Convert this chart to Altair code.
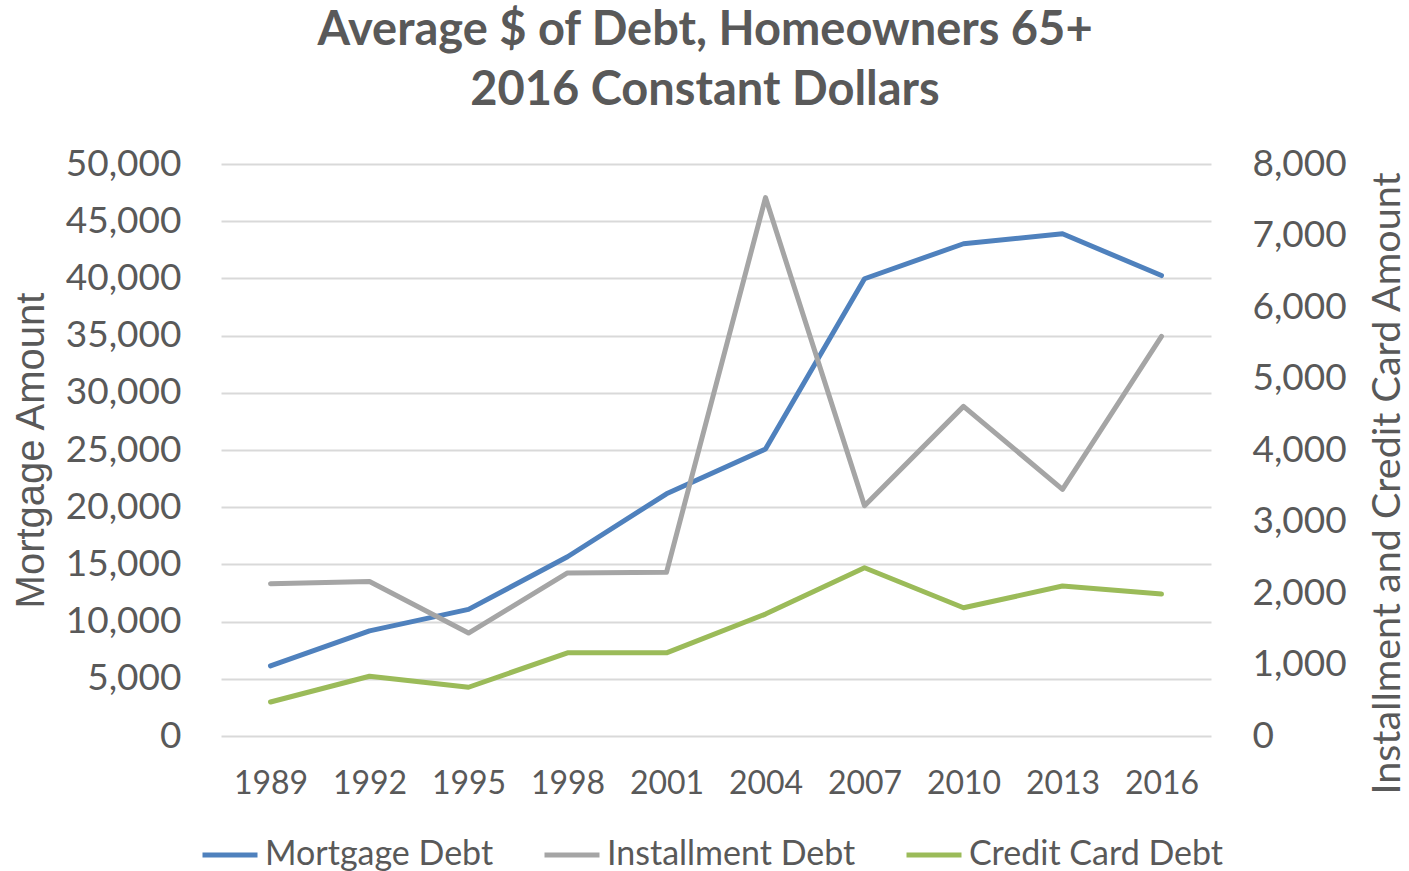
import altair as alt
import pandas as pd

years = ["1989", "1992", "1995", "1998", "2001", "2004", "2007", "2010", "2013", "2016"]
mortgage = [6130, 9190, 11070, 15670, 21170, 25080, 39970, 43030, 43900, 40250]
installment = [2130, 2160, 1440, 2280, 2290, 7530, 3220, 4610, 3450, 5590]
credit_card = [476, 836, 682, 1163, 1163, 1705, 2353, 1793, 2097, 1985]
series_names = ["Mortgage Debt", "Installment Debt", "Credit Card Debt"]
colors = ["#4F81BD", "#A5A5A5", "#9BBB59"]
left_ticks = list(range(0, 50001, 5000))
right_ticks = list(range(0, 8001, 1000))

rows = []
for name, vals in zip(series_names, [mortgage, installment, credit_card]):
    for yr, v in zip(years, vals):
        rows.append({"Year": yr, "Series": name, "Value": v})
df = pd.DataFrame(rows)

TXT = "#595959"

x_enc = alt.X(
    "Year:N", sort=years,
    scale=alt.Scale(type="point", padding=0.5),
    axis=alt.Axis(title=None, labelAngle=0, labelFont="Lato", labelFontSize=32,
                  labelColor=TXT, labelPadding=32, ticks=False, domain=False, grid=False),
)

color_enc = alt.Color(
    "Series:N",
    scale=alt.Scale(domain=series_names, range=colors),
    legend=alt.Legend(
        title=None, orient="none", legendX=-21, legendY=661, direction="horizontal",
        columns=3, symbolType="stroke", symbolSize=3025, symbolStrokeWidth=5,
        labelFont="Lato", labelFontSize=34, labelColor=TXT, labelOffset=5,
        columnPadding=40, labelLimit=400,
    ),
)

left = alt.Chart(df).transform_filter(alt.datum.Series == "Mortgage Debt").mark_line(
    strokeWidth=5, strokeCap="round", strokeJoin="round"
).encode(
    x=x_enc,
    y=alt.Y("Value:Q", scale=alt.Scale(domain=[0, 50000], nice=False),
            axis=alt.Axis(title="Mortgage Amount", values=left_ticks, format=",.0f",
                          grid=True, gridColor="#D9D9D9", gridWidth=2, ticks=False, domain=False,
                          labelFont="Lato", labelFontSize=37, labelColor=TXT, labelPadding=40,
                          titleFont="Liberation Sans", titleFontSize=40, titleFontWeight="normal",
                          titleColor=TXT, titleX=-178, titleY=286, titleAngle=-90,
                          titleBaseline="alphabetic", titleAlign="center")),
    color=color_enc,
)

right = alt.Chart(df).transform_filter(alt.datum.Series != "Mortgage Debt").mark_line(
    strokeWidth=5, strokeCap="round", strokeJoin="round"
).encode(
    x=x_enc,
    y=alt.Y("Value:Q", scale=alt.Scale(domain=[0, 8000], nice=False),
            axis=alt.Axis(title="Installment and Credit Card Amount", orient="right",
                          values=right_ticks, format=",.0f", grid=False, ticks=False, domain=False,
                          labelFont="Lato", labelFontSize=37, labelColor=TXT, labelPadding=41,
                          titleFont="Lato", titleFontSize=39.5, titleFontWeight="normal",
                          titleColor=TXT, titleX=188, titleY=319, titleAngle=-90,
                          titleBaseline="alphabetic", titleAlign="center")),
    color=color_enc,
    order=alt.Order("Series:N"),
)

chart = alt.layer(left, right).resolve_scale(y="independent").properties(
    width=990, height=572,
    background="white",
    title=alt.TitleParams(
        text=["Average $ of Debt, Homeowners 65+", "2016 Constant Dollars"],
        font="Lato", fontSize=47, fontWeight="bold", color=TXT,
        anchor="middle", dx=-11, offset=30, lineHeight=60,
    ),
    autosize=alt.AutoSizeParams(type="none"),
    padding={"left": 221, "top": 164, "right": 198, "bottom": 135},
).configure_view(strokeWidth=0, stroke=None)

chart.save("out.html", embed_options={"renderer": "svg", "actions": False})
